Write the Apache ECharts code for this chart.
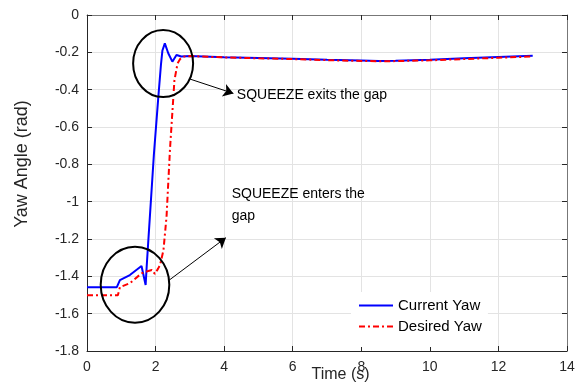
<!DOCTYPE html>
<html>
<head>
<meta charset="utf-8">
<script src="https://cdn.jsdelivr.net/npm/echarts@6/dist/echarts.min.js"></script>
<style>
  html, body { margin: 0; padding: 0; background: #fff; }
  #chart { width: 581px; height: 383px; }
</style>
</head>
<body>
<div id="chart"></div>
<script>
  // time (s) and yaw (rad)
  const currentT = [0, 0.87, 0.96, 1.25, 1.59, 1.71, 1.74, 1.79, 1.95, 2.08, 2.16, 2.20, 2.27, 2.37, 2.49, 2.61, 2.75, 3, 4, 5, 6, 7, 8, 8.5, 9, 10, 11, 12, 13];
  const currentYaw = [-1.458, -1.458, -1.42, -1.393, -1.345, -1.446, -1.35, -1.205, -0.75, -0.44, -0.26, -0.19, -0.152, -0.205, -0.25, -0.214, -0.222, -0.22, -0.226, -0.23, -0.234, -0.24, -0.244, -0.246, -0.245, -0.24, -0.232, -0.225, -0.218];
  const desiredT = [0, 0.9, 0.96, 1.25, 1.59, 1.79, 1.89, 1.98, 2.07, 2.13, 2.23, 2.32, 2.42, 2.55, 2.64, 2.72, 2.81, 3, 4, 5, 6, 7, 8, 8.5, 9, 10, 11, 12, 13];
  const desiredYaw = [-1.501, -1.501, -1.458, -1.437, -1.384, -1.371, -1.366, -1.387, -1.36, -1.34, -1.26, -1.08, -0.72, -0.35, -0.26, -0.235, -0.223, -0.22, -0.227, -0.232, -0.236, -0.242, -0.246, -0.248, -0.247, -0.243, -0.236, -0.229, -0.222];
  const seriesNames = ['Current Yaw', 'Desired Yaw'];

  // annotations, in data coordinates
  const circles = [[2.22, -0.26, 30, 33.5], [1.40, -1.445, 34.3, 38]];
  const arrows = [[[3.0, -0.343], [4.27, -0.42]], [[2.40, -1.42], [4.05, -1.193]]];
  const notes = [['SQUEEZE exits the gap', 4.37, -0.428], ['SQUEEZE enters the\ngap', 4.22, -1.018]];

  const font = 'Liberation Sans, Arial, Helvetica, sans-serif';
  const ink = '#262626';

  const zip = (t, v) => t.map((x, i) => [x, v[i]]);

  const myChart = echarts.init(document.getElementById('chart'));
  const option = {
    animation: false,
    grid: { left: 87, right: 14, top: 15, bottom: 32, containLabel: false, outerBoundsMode: 'none' },
    legend: {
      orient: 'vertical',
      left: 351, top: 292,
      padding: [6, 6, 13, 7],
      itemWidth: 34, itemHeight: 14, itemGap: 6,
      backgroundColor: '#fff',
      itemStyle: { opacity: 0 },
      textStyle: { fontFamily: font, fontSize: 15, color: '#000' },
      data: seriesNames
    },
    xAxis: [{
      type: 'value', min: 0, max: 14, interval: 2,
      name: 'Time (s)', nameLocation: 'middle', nameGap: 16, nameMoveOverlap: false,
      nameTextStyle: { fontFamily: font, fontSize: 16, color: ink, padding: [0, 0, 0, 27] },
      axisLine: { onZero: false, lineStyle: { color: ink, width: 1 } },
      axisTick: { inside: true, length: 5, lineStyle: { color: ink } },
      axisLabel: { margin: 9, fontFamily: font, fontSize: 14, color: ink },
      splitLine: { show: true, lineStyle: { color: '#e3e3e3', width: 1 } }
    }, {
      type: 'value', min: 0, max: 14, interval: 2, position: 'top',
      axisLine: { onZero: false, lineStyle: { color: '#777', width: 1 } },
      axisTick: { inside: true, length: 5, lineStyle: { color: ink } },
      axisLabel: { show: false },
      splitLine: { show: false }
    }],
    yAxis: [{
      type: 'value', min: -1.8, max: 0, interval: 0.2,
      axisLine: { onZero: false, lineStyle: { color: ink, width: 1 } },
      axisTick: { inside: true, length: 5, lineStyle: { color: ink } },
      axisLabel: { margin: 8, fontFamily: font, fontSize: 14, color: ink },
      splitLine: { show: true, lineStyle: { color: '#e3e3e3', width: 1 } }
    }, {
      type: 'value', min: -1.8, max: 0, interval: 0.2, position: 'right',
      axisLine: { onZero: false, lineStyle: { color: '#777', width: 1 } },
      axisTick: { inside: true, length: 5, lineStyle: { color: ink } },
      axisLabel: { show: false },
      splitLine: { show: false }
    }],
    series: [{
      name: seriesNames[0],
      type: 'line',
      symbol: 'none',
      lineStyle: { color: '#0000ff', width: 2 },
      itemStyle: { color: '#0000ff' },
      data: zip(currentT, currentYaw),
      markLine: {
        silent: true,
        symbol: ['none', 'arrow'],
        symbolSize: 10,
        label: { show: false },
        lineStyle: { color: '#000', width: 1, type: 'solid' },
        data: arrows.map(a => [{ coord: a[0] }, { coord: a[1] }])
      }
    }, {
      name: seriesNames[1],
      type: 'line',
      symbol: 'none',
      lineStyle: { color: '#ff0000', width: 2, type: [6, 3, 2, 3] },
      itemStyle: { color: '#ff0000' },
      data: zip(desiredT, desiredYaw)
    }]
  };
  myChart.setOption(option);

  // circles, notes and the y title placed from data coordinates
  const graphics = [];
  circles.forEach(c => {
    const p = myChart.convertToPixel({ gridIndex: 0 }, [c[0], c[1]]);
    graphics.push({
      type: 'ellipse', silent: true, z: 100,
      shape: { cx: p[0], cy: p[1], rx: c[2], ry: c[3] },
      style: { fill: 'none', stroke: '#000', lineWidth: 2 }
    });
  });
  notes.forEach(n => {
    const p = myChart.convertToPixel({ gridIndex: 0 }, [n[1], n[2]]);
    const lines = n[0].split('\n');
    lines.forEach((s, i) => {
      graphics.push({
        type: 'text', silent: true, z: 100,
        x: p[0], y: p[1] + (i - (lines.length - 1) / 2) * 22,
        style: { text: s, fontFamily: font, fontSize: 14, fill: '#000', verticalAlign: 'middle' }
      });
    });
  });
  graphics.push({
    type: 'text', silent: true,
    x: 21.7, y: 164, rotation: Math.PI / 2,
    style: { text: 'Yaw Angle (rad)', fontFamily: font, fontSize: 18, fill: ink, align: 'center', verticalAlign: 'middle' }
  });
  myChart.setOption({ graphic: graphics });
</script>
</body>
</html>
